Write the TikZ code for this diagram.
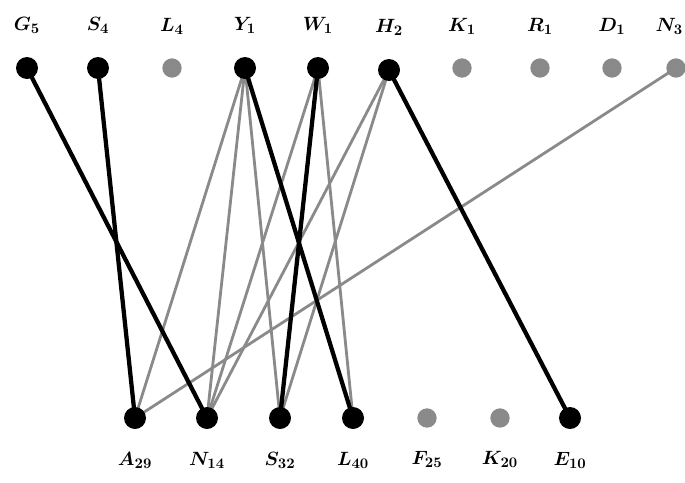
\documentclass[tikz,border=0pt]{standalone}
\usepackage{amsmath}
\usepackage{bm}
\usepackage{xcolor}
\usepackage{tikz}
\usetikzlibrary{positioning,backgrounds}
\definecolor{ugray}{HTML}{8A8A8A}

\begin{document}
\begin{tikzpicture}[x=0.75pt, y=-0.75pt,
  on/.style={circle, fill=black, inner sep=0pt, minimum size=16.5pt},
  off/.style={circle, fill=ugray, inner sep=0pt, minimum size=14.5pt},
  tl/.style={label={[font=\fontsize{15}{17}\selectfont, label distance=14pt]above:#1}},
  bl/.style={label={[font=\fontsize{15}{17}\selectfont, label distance=14pt]below:#1}},
  hit/.style={line width=3.2pt},
  cand/.style={line width=2.1pt, ugray}]
\useasboundingbox (0,0) rectangle (685,482);
% upper row
\node[on, tl={$\bm{G_5}$}] (g5) at (27,68) {}; \node[on, tl={$\bm{S_4}$}] (s4) at (98,68) {};
\node[off, tl={$\bm{L_4}$}] (l4) at (172,68) {}; \node[on, tl={$\bm{Y_1}$}] (y1) at (245,68) {};
\node[on, tl={$\bm{W_1}$}] (w1) at (318,68) {}; \node[on, tl={$\bm{H_2}$}] (h2) at (389,70) {};
\node[off, tl={$\bm{K_1}$}] (k1) at (462,68) {}; \node[off, tl={$\bm{R_1}$}] (r1) at (540,68) {};
\node[off, tl={$\bm{D_1}$}] (d1) at (612,68) {};
\node[off, label={[font=\fontsize{15}{17}\selectfont, label distance=14pt, xshift=-5pt]above:$\bm{N_3}$}] (n3) at (676,68) {};
% lower row
\node[on, bl={$\bm{A_{29}}$}] (a29) at (135,418) {}; \node[on, bl={$\bm{N_{14}}$}] (n14) at (207,418) {};
\node[on, bl={$\bm{S_{32}}$}] (s32) at (280,418) {}; \node[on, bl={$\bm{L_{40}}$}] (l40) at (353,418) {};
\node[off, bl={$\bm{F_{25}}$}] (f25) at (427,418) {}; \node[off, bl={$\bm{K_{20}}$}] (k20) at (500,418) {};
\node[on, bl={$\bm{E_{10}}$}] (e10) at (570,418) {};
\begin{scope}[on background layer]
\fill[white] (0,0) rectangle (685,482);
% gray candidate edges
\draw[cand] (y1.center)--(a29.center); \draw[cand] (y1.center)--(n14.center); \draw[cand] (y1.center)--(s32.center);
\draw[cand] (w1.center)--(n14.center); \draw[cand] (w1.center)--(l40.center);
\draw[cand] (h2.center)--(n14.center); \draw[cand] (h2.center)--(s32.center);
\draw[cand] (n3.center)--(a29.center);
% black matching edges
\draw[hit] (g5.center)--(n14.center); \draw[hit] (s4.center)--(a29.center);
\draw[hit] (y1.center)--(l40.center); \draw[hit] (w1.center)--(s32.center);
\draw[hit] (h2.center)--(e10.center);
\end{scope}
\end{tikzpicture}
\end{document}
